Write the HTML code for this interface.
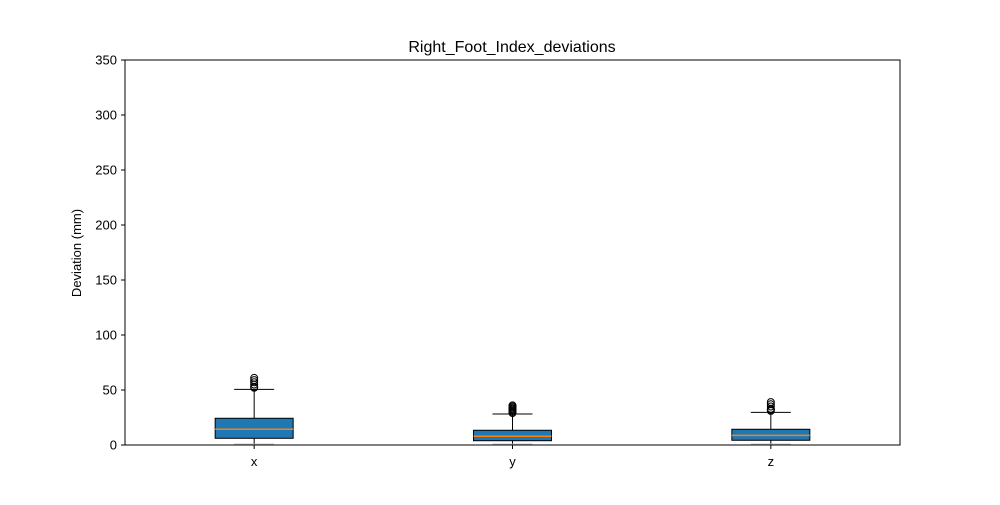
<!DOCTYPE html>
<html><head><meta charset="utf-8"><style>
body{margin:0;background:#fff;font-family:"Liberation Sans","DejaVu Sans",sans-serif}
</style></head><body>
<svg id="chart" width="1000" height="500" xmlns="http://www.w3.org/2000/svg">
<text x="512" y="52" font-size="16" text-anchor="middle">Right_Foot_Index_deviations</text>
<text transform="translate(81,253) rotate(-90)" font-size="13" text-anchor="middle">Deviation (mm)</text>
<g id="ticks"></g>
<g id="boxes"></g>
<rect x="125" y="60" width="775" height="385" fill="none" stroke="#000" stroke-width="1"/>
</svg>
<script>
const categories=["x","y","z"];
const q1=[6.1,3.9,4.3];
const medians=[14.3,7.9,8.8];
const q3=[24.3,13.4,14.3];
const whiskLo=[0.8,0.8,0.8];
const whiskHi=[50.6,28.2,29.7];
const outliers=[[52,53,55,57,59,61],[29,30,31,32,33,34,35,36],[31,32,33,35,37,39]];
const yTicks=[0,50,100,150,200,250,300,350];
const NS="http://www.w3.org/2000/svg";
const yS=v=>445-v*385/350;
const xS=i=>125+(i+0.5)*775/3;
function mk(t,a,p){const e=document.createElementNS(NS,t);for(const k in a)e.setAttribute(k,a[k]);p.appendChild(e);return e;}
const tg=document.getElementById('ticks');
yTicks.forEach(v=>{
 const l=mk('line',{x1:121,x2:125,y1:yS(v),y2:yS(v),stroke:'#000'},tg);
 
 
 const t=mk('text',{x:117,y:yS(v)+4.5,'font-size':13,'text-anchor':'end'},tg);t.textContent=v;
 
 
});
const bg=document.getElementById('boxes');
categories.forEach((c,i)=>{
 const cx=xS(i),hw=39,cw=20;
 const g=mk('g',{},bg);
 
 
 mk('line',{x1:cx,x2:cx,y1:yS(q3[i]),y2:yS(whiskHi[i]),stroke:'#000'},g);
 mk('line',{x1:cx,x2:cx,y1:yS(q1[i]),y2:yS(whiskLo[i]),stroke:'#000'},g);
 mk('line',{x1:cx-cw,x2:cx+cw,y1:yS(whiskHi[i]),y2:yS(whiskHi[i]),stroke:'#000'},g);
 mk('line',{x1:cx-cw,x2:cx+cw,y1:yS(whiskLo[i]),y2:yS(whiskLo[i]),stroke:'#bbb'},g);
 mk('rect',{x:cx-hw,y:yS(q3[i]),width:2*hw,height:yS(q1[i])-yS(q3[i]),fill:'#1f77b4',stroke:'#000'},g);
 mk('line',{x1:cx-hw,x2:cx+hw,y1:yS(medians[i]),y2:yS(medians[i]),stroke:'#ff7f0e','stroke-width':1.5},g);
 outliers[i].forEach(v=>{const o=mk('circle',{cx:cx,cy:yS(v),r:3.5,fill:'none',stroke:'#000'},g);
  
  });
 mk('line',{x1:cx,x2:cx,y1:445,y2:449,stroke:'#000'},tg);
 const t=mk('text',{x:cx,y:466,'font-size':13,'text-anchor':'middle'},tg);t.textContent=c;
 
 
});
</script>
</body></html>
